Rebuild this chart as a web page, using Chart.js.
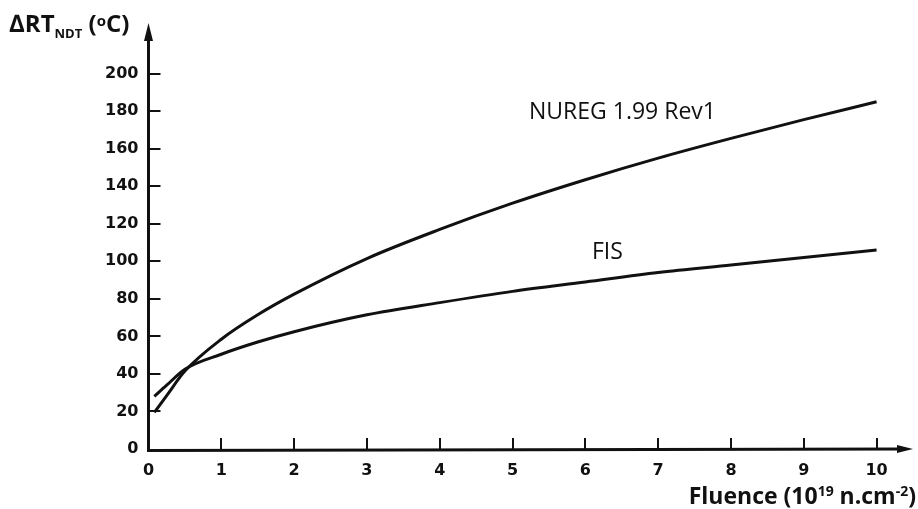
<!DOCTYPE html>
<html><head><meta charset="utf-8">
<script src="https://cdn.jsdelivr.net/npm/chart.js@4"></script>
<style>html,body{margin:0;padding:0;background:#fff}</style>
</head><body>
<canvas id="c" width="918" height="509"></canvas>
<script>
// ---- data ----
const fluenceNureg = [0.08, 0.25, 0.5, 1, 1.5, 2, 3, 4, 5, 6, 7, 8, 9, 10];
const nuregValues  = [19.5, 28.5, 41.5, 58.5, 71.5, 82.5, 101.5, 117, 131, 143.5, 155, 165.5, 175.5, 185];
const fluenceFis   = [0.08, 0.25, 0.5, 1, 1.5, 2, 3, 4, 5, 6, 7, 8, 9, 10];
const fisValues    = [28, 34, 42.5, 50.5, 57, 62.5, 71.5, 78, 84, 89, 94, 98, 102, 106];
const xTickValues  = [1, 2, 3, 4, 5, 6, 7, 8, 9, 10];
const yTickValues  = [20, 40, 60, 80, 100, 120, 140, 160, 180, 200];
const seriesLabels = ['NUREG 1.99 Rev1', 'FIS'];

const toPts = (xs, ys) => xs.map((x, i) => ({x, y: ys[i]}));

function drawRich(ctx, segs, x, baseline, align) {
  let total = 0;
  segs.forEach(s => { ctx.font = s.font; total += ctx.measureText(s.t).width; });
  let cx = align === 'right' ? x - total : x;
  segs.forEach(s => {
    ctx.font = s.font;
    ctx.fillText(s.t, cx, baseline + (s.dy || 0));
    cx += ctx.measureText(s.t).width;
  });
}

const decor = {
  id: 'decor',
  afterDraw(chart) {
    const ctx = chart.ctx, xs = chart.scales.x, ys = chart.scales.y;
    const x0 = xs.getPixelForValue(0), y0 = ys.getPixelForValue(0);
    const yTop = ys.getPixelForValue(ys.max), xEnd = xs.getPixelForValue(xs.max);
    ctx.save();
    ctx.strokeStyle = '#111'; ctx.fillStyle = '#111';
    // axes
    ctx.lineWidth = 3;
    ctx.beginPath();
    ctx.moveTo(x0, yTop + 10); ctx.lineTo(x0, y0 + 1.5);
    ctx.lineTo(xEnd - 10, y0);
    ctx.stroke();
    // arrows
    ctx.beginPath();
    ctx.moveTo(x0, yTop); ctx.lineTo(x0 - 4.5, yTop + 18); ctx.lineTo(x0 + 4.5, yTop + 18); ctx.closePath(); ctx.fill();
    ctx.beginPath();
    ctx.moveTo(xEnd, y0); ctx.lineTo(xEnd - 16, y0 - 4); ctx.lineTo(xEnd - 16, y0 + 4); ctx.closePath(); ctx.fill();
    // inward ticks
    ctx.lineWidth = 2;
    ctx.beginPath();
    yTickValues.forEach(v => { const p = Math.round(ys.getPixelForValue(v)); ctx.moveTo(x0, p); ctx.lineTo(x0 + 12, p); });
    xTickValues.forEach(v => { const p = Math.round(xs.getPixelForValue(v)); ctx.moveTo(p, y0); ctx.lineTo(p, y0 - 11); });
    ctx.stroke();
    // axis titles
    ctx.textAlign = 'left'; ctx.textBaseline = 'alphabetic';
    drawRich(ctx, [
      {t: '\u2206RT', font: 'bold 24px "Open Sans"'},
      {t: 'NDT', font: 'bold 13px "Open Sans"', dy: 6},
      {t: ' (', font: 'bold 24px "Open Sans"'},
      {t: 'o', font: 'bold 15px "Open Sans"', dy: -6},
      {t: 'C)', font: 'bold 24px "Open Sans"'}
    ], 9, 32, 'left');
    drawRich(ctx, [
      {t: 'Fluence (10', font: 'bold 23px "Open Sans"'},
      {t: '19', font: 'bold 14px "Open Sans"', dy: -8},
      {t: ' n.cm', font: 'bold 23px "Open Sans"'},
      {t: '-2', font: 'bold 14px "Open Sans"', dy: -8},
      {t: ')', font: 'bold 23px "Open Sans"'}
    ], 916, 504, 'right');
    // series labels
    ctx.font = '23px "Open Sans"';
    ctx.fillText(seriesLabels[0], 529, 119);
    ctx.fillText(seriesLabels[1], 592, 259);
    ctx.restore();
  }
};

new Chart(document.getElementById('c'), {
  type: 'scatter',
  data: {
    datasets: [
      {label: seriesLabels[0], data: toPts(fluenceNureg, nuregValues), showLine: true,
       borderColor: '#111', borderWidth: 3, pointRadius: 0, cubicInterpolationMode: 'monotone', fill: false},
      {label: seriesLabels[1], data: toPts(fluenceFis, fisValues), showLine: true,
       borderColor: '#111', borderWidth: 3, pointRadius: 0, cubicInterpolationMode: 'monotone', fill: false}
    ]
  },
  options: {
    responsive: false, animation: false, devicePixelRatio: 1,
    layout: {padding: {left: 0, right: 5, top: 23, bottom: 0}},
    plugins: {legend: {display: false}, tooltip: {enabled: false}},
    scales: {
      x: {
        type: 'linear', min: 0, max: 10.5,
        border: {display: false}, grid: {display: false},
        ticks: {stepSize: 1, includeBounds: false, padding: 4, color: '#111',
                font: {family: '"DejaVu Sans"', weight: 'bold', size: 16}, maxRotation: 0,
                callback: v => (v <= 10 ? String(v) : '')},
        afterFit: s => { s.height = 60; }
      },
      y: {
        type: 'linear', min: 0, max: 227,
        border: {display: false}, grid: {display: false},
        ticks: {stepSize: 20, includeBounds: false, padding: 2, color: '#111',
                font: {family: '"DejaVu Sans"', weight: 'bold', size: 16},
                callback: v => (v <= 200 ? String(v) : '')},
        afterFit: s => { s.width = 148.5; }
      }
    }
  },
  plugins: [decor]
});
</script>
</body></html>
